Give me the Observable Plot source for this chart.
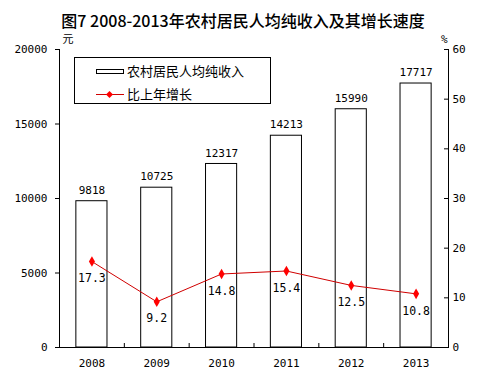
<!DOCTYPE html>
<html><head><meta charset="utf-8">
<script src="https://cdn.jsdelivr.net/npm/d3@7"></script>
<script src="https://cdn.jsdelivr.net/npm/@observablehq/plot@0.6"></script>
<style>
body{margin:0;background:white;}
#wrap{position:relative;width:482px;height:390px;}
#legend{position:absolute;left:74px;top:57px;width:195px;height:45px;border:1px solid black;background:white;font-family:"Noto Sans CJK SC",sans-serif;font-size:13px;}
#legend .row{position:absolute;left:0;height:20px;line-height:20px;}
#legend svg{position:absolute;left:21px;}
#legend span{position:absolute;left:52px;white-space:nowrap;}
</style></head>
<body><div id="wrap"></div>
<script>
const title = "图7 2008-2013年农村居民人均纯收入及其增长速度";
const years = [2008, 2009, 2010, 2011, 2012, 2013];
const income = [9818, 10725, 12317, 14213, 15990, 17717];
const growth = [17.3, 9.2, 14.8, 15.4, 12.5, 10.8];
const incomeTicks = [0, 5000, 10000, 15000, 20000];
const growthTicks = [0, 10, 20, 30, 40, 50, 60];
const seriesNames = ["农村居民人均纯收入", "比上年增长"];
const units = ["元", "%"];

const k = 20000 / 60;
const data = years.map((year, i) => ({year, income: income[i], growth: growth[i]}));
const boundaries = years.slice(0, -1).map(y => y + 0.5);
const cjk = "Noto Sans CJK SC";
const mono = "DejaVu Sans Mono";

const chart = Plot.plot({
  width: 482, height: 390,
  marginTop: 49, marginBottom: 43, marginLeft: 59, marginRight: 34,
  x: {type: "linear", domain: [2007.5, 2013.5], axis: null},
  y: {domain: [0, 20000], axis: null},
  style: {fontFamily: mono, fontSize: "11px", color: "black", background: "white"},
  marks: [
    Plot.rect(data, {x1: d => d.year - 0.24, x2: d => d.year + 0.24, y1: 0, y2: "income", fill: "white", stroke: "black"}),
    Plot.ruleY([0], {stroke: "black"}),
    Plot.ruleX([2007.5, 2013.5], {stroke: "black"}),
    Plot.axisX(boundaries, {anchor: "bottom", tickSize: -4, fill: "none", label: null}),
    Plot.axisX(years, {anchor: "bottom", tickSize: 0, tickPadding: 12, tickFormat: d => String(d), label: null}),
    Plot.axisY(incomeTicks, {anchor: "left", tickSize: 4, tickPadding: 8, tickFormat: d => String(d), label: null}),
    Plot.axisY(growthTicks.map(t => t * k), {anchor: "right", tickSize: -5, fill: "none", label: null}),
    Plot.axisY(growthTicks.map(t => t * k), {anchor: "right", tickSize: 0, tickPadding: 4, tickFormat: d => String(Math.round(d / k)), label: null}),
    Plot.line(data, {x: "year", y: d => d.growth * k, stroke: "#d00000", strokeWidth: 1}),
    Plot.dot(data, {x: "year", y: d => d.growth * k, symbol: "diamond", r: 3.2, fill: "#ff0000", stroke: null}),
    Plot.text(data, {x: "year", y: d => d.growth * k, text: d => d.growth.toFixed(1), dy: 17, fontSize: 11.5}),
    Plot.text(data, {x: "year", y: "income", text: d => String(d.income), dy: -11}),
    Plot.text([units[0]], {frameAnchor: "top-left", text: d => d, dx: 3, dy: -14, fontFamily: cjk, fontSize: 11}),
    Plot.text([units[1]], {frameAnchor: "top-right", text: d => d, dx: -1, dy: -14, fontFamily: mono, fontSize: 11}),
    Plot.text([title], {frameAnchor: "top", text: d => d, dx: -11, dy: -34, fontFamily: cjk, fontSize: 16, fontWeight: 500})
  ]
});
const wrap = document.getElementById("wrap");
wrap.appendChild(chart);

const legend = document.createElement("div");
legend.id = "legend";
legend.innerHTML = `
<div class="row" style="top:3px;width:195px">
  <svg width="30" height="20"><rect x="0.5" y="8.5" width="27" height="4" fill="white" stroke="black"/></svg>
  <span>${seriesNames[0]}</span>
</div>
<div class="row" style="top:26px;width:195px">
  <svg width="30" height="20"><line x1="0" x2="28" y1="10.5" y2="10.5" stroke="#d00000"/><path d="M13.5,7 L17,10.5 L13.5,14 L10,10.5Z" fill="#ff0000"/></svg>
  <span>${seriesNames[1]}</span>
</div>`;
wrap.appendChild(legend);
</script></body></html>
